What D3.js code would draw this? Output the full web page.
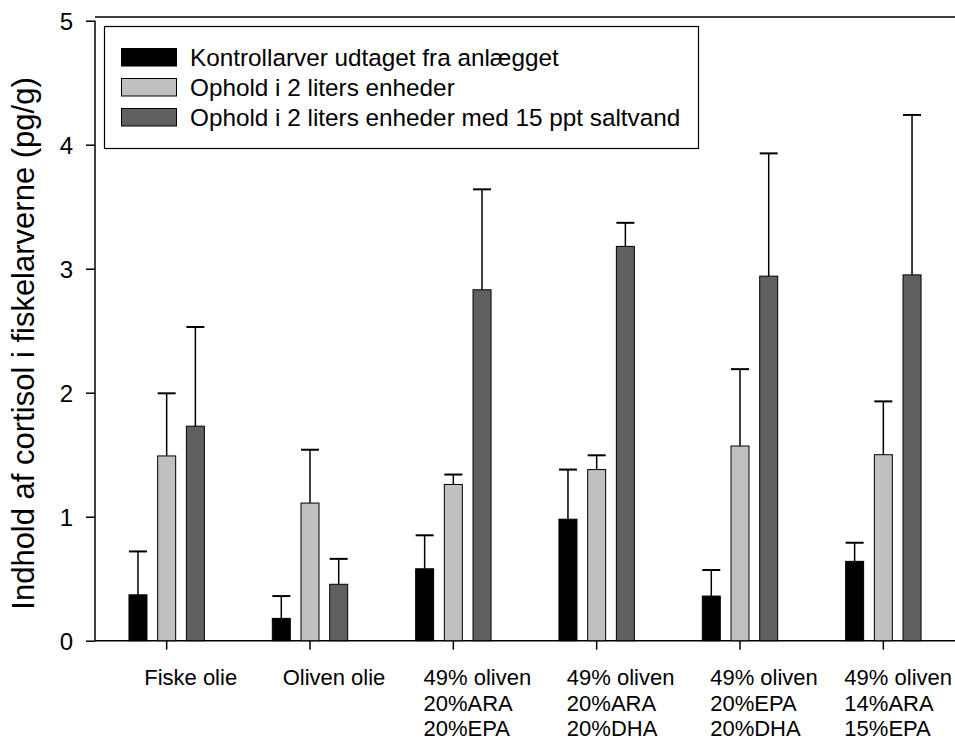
<!DOCTYPE html>
<html><head><meta charset="utf-8">
<script src="https://cdn.jsdelivr.net/npm/d3@7"></script>
<style>body{margin:0;background:#fff}svg{display:block}text{font-family:"Liberation Sans",Arial,sans-serif;fill:#000}</style>
</head><body><svg id="c" width="955" height="742"></svg>
<script>
const categories = [["Fiske olie"],["Oliven olie"],["49% oliven","20%ARA","20%EPA"],["49% oliven","20%ARA","20%DHA"],["49% oliven","20%EPA","20%DHA"],["49% oliven","14%ARA","15%EPA"]];
const seriesNames = ["Kontrollarver udtaget fra anlægget","Ophold i 2 liters enheder","Ophold i 2 liters enheder med 15 ppt saltvand"];
const kontrol = [0.37, 0.18, 0.58, 0.98, 0.36, 0.64];
const kontrolErr = [0.72, 0.36, 0.85, 1.38, 0.57, 0.79];
const ophold = [1.49, 1.11, 1.26, 1.38, 1.57, 1.50];
const opholdErr = [1.995, 1.54, 1.34, 1.495, 2.19, 1.93];
const salt = [1.73, 0.455, 2.83, 3.18, 2.94, 2.95];
const saltErr = [2.53, 0.66, 3.64, 3.37, 3.93, 4.24];
const yTicks = [0,1,2,3,4,5];
const colors = ["#000000","#c0c0c0","#606060"];

const values = [kontrol, ophold, salt];
const errs = [kontrolErr, opholdErr, saltErr];
const svg = d3.select("#c");
const x = d3.scaleBand().domain(d3.range(categories.length)).range([95,955]).padding(0);
const y = d3.scaleLinear().domain([0,5]).range([640.7,20.7]);
const offsets = [-28.7, 0, 28.7];
const bw = 18;

svg.append("line").attr("x1",95).attr("x2",955).attr("y1",17).attr("y2",17).attr("stroke","#000").attr("stroke-width",1.5);

const ya = svg.append("g").attr("transform","translate(95,0)").call(d3.axisLeft(y).tickValues(yTicks).tickFormat(d3.format("d")).tickSize(9).tickPadding(13));
ya.select(".domain").attr("stroke-width",1.5).attr("d","M0,"+y(5)+"V"+y(0));
ya.selectAll(".tick line").attr("stroke-width",1.5);
ya.selectAll("text").style("font-size","24px").attr("dy","0.36em");

const xa = svg.append("g").attr("transform","translate(0,"+y(0)+")").call(d3.axisBottom(x).tickSize(9).tickFormat(""));
xa.select(".domain").attr("stroke-width",1.5).attr("d","M95,0H955");
xa.selectAll(".tick line").attr("stroke-width",1.5);

categories.forEach((lines,i)=>{
  const t = svg.append("text").attr("text-anchor","start").style("font-size","22px");
  const spans = lines.map((l,j)=>t.append("tspan").attr("y",685+j*25.5).text(l));
  const w = d3.max(spans, s=>s.node().getComputedTextLength());
  const left = Math.min(x(i)+x.bandwidth()/2+24-w/2, 952-w);
  spans.forEach(s=>s.attr("x",left));
});

values.forEach((vals,s)=>{
  const g = svg.append("g");
  vals.forEach((v,i)=>{
    const cx = x(i)+x.bandwidth()/2+offsets[s];
    g.append("line").attr("x1",cx).attr("x2",cx).attr("y1",y(v)).attr("y2",y(errs[s][i])).attr("stroke","#000").attr("stroke-width",1.5);
    g.append("line").attr("x1",cx-bw/2).attr("x2",cx+bw/2).attr("y1",y(errs[s][i])).attr("y2",y(errs[s][i])).attr("stroke","#000").attr("stroke-width",2);
    g.append("rect").attr("x",cx-bw/2).attr("y",y(v)).attr("width",bw).attr("height",y(0)-y(v)).attr("fill",colors[s]).attr("stroke","#000").attr("stroke-width",1);
  });
});

const lg = svg.append("g");
lg.append("rect").attr("x",104.5).attr("y",26.5).attr("width",594).attr("height",122).attr("fill","#fff").attr("stroke","#000").attr("stroke-width",1.2);
seriesNames.forEach((n,i)=>{
  const yy = 48.5 + i*30;
  lg.append("rect").attr("x",121.5).attr("y",yy).attr("width",55).attr("height",17.5).attr("fill",colors[i]).attr("stroke","#000").attr("stroke-width",1);
  lg.append("text").attr("x",190).attr("y",yy+17).style("font-size","24.3px").text(n);
});

svg.append("text").attr("transform","translate(33.5,343.5) rotate(-90)").attr("text-anchor","middle").style("font-size","31px").text("Indhold af cortisol i fiskelarverne (pg/g)");
</script></body></html>
